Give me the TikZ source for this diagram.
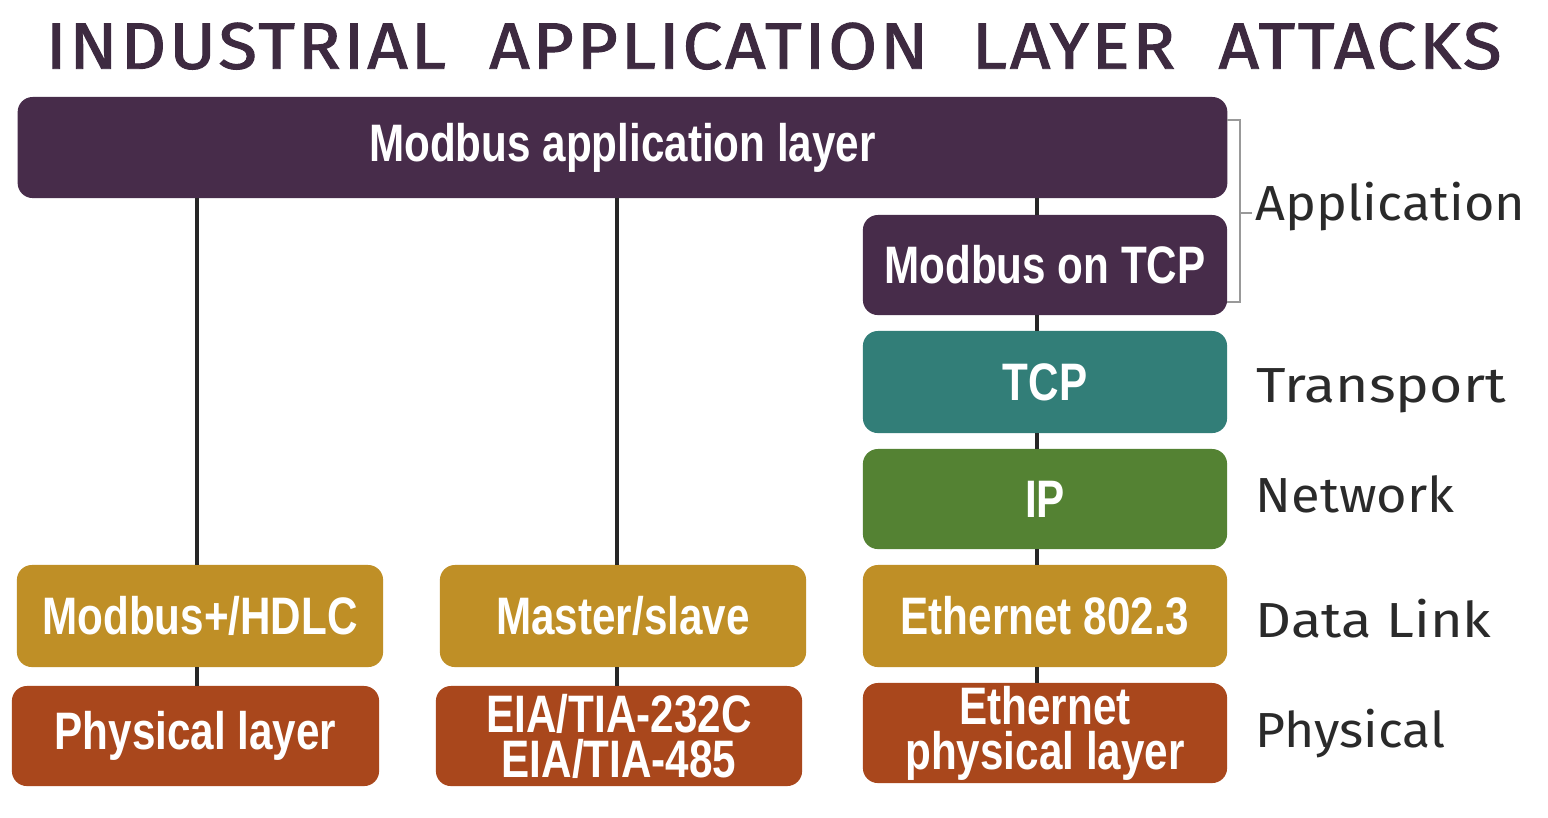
\documentclass[tikz,border=0pt]{standalone}
\usepackage{fontspec}
\setmainfont{Liberation Sans}
\newfontfamily\boxfont[FakeStretch=0.8]{Liberation Sans}
\newfontfamily\handfont{Fira Sans}
\newfontfamily\titlefont[FakeBold=1.5,LetterSpace=4]{Fira Sans}
\definecolor{cpurple}{HTML}{472C4A}
\definecolor{cteal}{HTML}{327E78}
\definecolor{cgreen}{HTML}{548233}
\definecolor{cgold}{HTML}{BF8F26}
\definecolor{crust}{HTML}{A9471C}
\definecolor{ctitle}{HTML}{3D2A40}
\definecolor{clabel}{HTML}{2A2A2A}
\tikzset{
  layerbox/.style={rectangle, rounded corners=0.15cm, inner sep=0pt, outer sep=0pt,
    text=white, font={\boxfont\bfseries\fontsize{15}{12.8}\selectfont}, align=center,
    minimum height=1.01cm},
  link/.style={draw=black!85, line width=0.04cm},
  osilabel/.style={anchor=base west, text=clabel, font={\handfont\fontsize{14}{16}\selectfont}, inner sep=0pt},
  brace/.style={draw=gray!80, line width=0.02cm}
}
\begin{document}
\begin{tikzpicture}[x=0.01cm,y=-0.01cm]
\useasboundingbox[fill=white] (0,0) rectangle (1548,817);
% title
\node[anchor=north west, inner sep=0pt, text=ctitle] (title) at (45,22)
  {\resizebox{14.55cm}{0.46cm}{\titlefont\fontsize{20}{24}\selectfont INDUSTRIAL\ \ APPLICATION\ \ LAYER\ \ ATTACKS}};
% coordinates for connector columns
\coordinate (c1) at (197,0);
\coordinate (c2) at (617,0);
\coordinate (c3) at (1037,0);
% boxes
\node[layerbox, fill=cpurple, minimum width=12.09cm] (app) at (622.5,147.5) {Modbus application layer};
\node[layerbox, fill=cpurple, minimum width=3.64cm, minimum height=1.00cm] (mtcp) at (1045,265) {Modbus on TCP};
\node[layerbox, fill=cteal, minimum width=3.64cm, minimum height=1.02cm] (tcp) at (1045,382) {TCP};
\node[layerbox, fill=cgreen, minimum width=3.64cm, minimum height=1.00cm] (ip) at (1045,499) {IP};
\node[layerbox, fill=cgold, minimum width=3.64cm, minimum height=1.02cm] (eth) at (1045,616) {Ethernet 802.3};
\node[layerbox, fill=crust, minimum width=3.64cm, minimum height=1.00cm] (ephy) at (1045,733) {Ethernet\\physical layer};
\node[layerbox, fill=cgold, minimum width=3.66cm, minimum height=1.02cm] (hdlc) at (200,616) {Modbus+/HDLC};
\node[layerbox, fill=crust, minimum width=3.67cm, minimum height=1.00cm] (phy) at (195.5,736) {Physical layer};
\node[layerbox, fill=cgold, minimum width=3.66cm, minimum height=1.02cm] (ms) at (623,616) {Master/slave};
\node[layerbox, fill=crust, minimum width=3.66cm, minimum height=1.00cm] (eia) at (619,736) {EIA/TIA-232C\\EIA/TIA-485};
% connectors
\draw[link] (c1 |- app.south) -- (c1 |- hdlc.north);
\draw[link] (c1 |- hdlc.south) -- (c1 |- phy.north);
\draw[link] (c2 |- app.south) -- (c2 |- ms.north);
\draw[link] (c2 |- ms.south) -- (c2 |- eia.north);
\draw[link] (c3 |- app.south) -- (c3 |- mtcp.north);
\draw[link] (c3 |- mtcp.south) -- (c3 |- tcp.north);
\draw[link] (c3 |- tcp.south) -- (c3 |- ip.north);
\draw[link] (c3 |- ip.south) -- (c3 |- eth.north);
\draw[link] (c3 |- eth.south) -- (c3 |- ephy.north);
% bracket
\coordinate (bt) at (1240,120);
\coordinate (bb) at (1240,302);
\coordinate (bm) at (1240,213);
\draw[brace] (bt -| app.east) -- (bt) -- (bb) -- (bb -| mtcp.east);
\draw[brace] (bm) -- ++(12,0) coordinate (bmtip);
% OSI labels
\node[osilabel] (lapp) at (1255,220) {\scalebox{1.06}[1]{Application}};
\node[osilabel] (ltra) at (1256,402) {\scalebox{1.16}[1]{Transport}};
\node[osilabel] (lnet) at (1255,512) {\scalebox{1.065}[1]{Network}};
\node[osilabel] (ldl) at (1255,637) {\scalebox{1.135}[1]{Data Link}};
\node[osilabel] (lphy) at (1255,747) {\scalebox{1.05}[1]{Physical}};
\end{tikzpicture}
\end{document}
